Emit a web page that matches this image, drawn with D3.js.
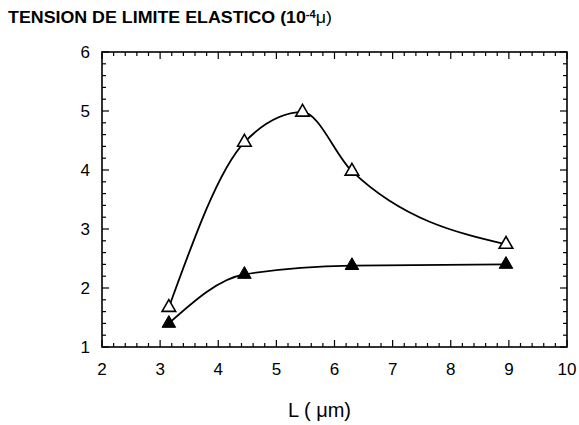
<!DOCTYPE html>
<html>
<head>
<meta charset="utf-8">
<script src="https://cdn.jsdelivr.net/npm/d3@7"></script>
<style>
  body { margin: 0; background: #fff; }
  svg { display: block; font-family: 'Liberation Sans', Arial, sans-serif; }
</style>
</head>
<body>
<div id="chart"></div>
<script>
// data
var xTicks = [2, 3, 4, 5, 6, 7, 8, 9, 10]
var yTicks = [1, 2, 3, 4, 5, 6]
var openL = [3.15, 4.45, 5.45, 6.3, 8.95]
var openV = [1.67, 4.47, 4.98, 3.98, 2.74]
var filledL = [3.15, 4.45, 6.3, 8.95]
var filledV = [1.4, 2.23, 2.38, 2.40]

var width = 579
var height = 425
var margin = { top: 52, right: 12, bottom: 78, left: 102 }

var svg = d3.select('#chart')
  .append('svg')
  .attr('width', width)
  .attr('height', height)

var x = d3.scaleLinear().domain([2, 10]).range([margin.left, width - margin.right])
var y = d3.scaleLinear().domain([1, 6]).range([height - margin.bottom, margin.top])

// inward ticks on all four sides
var minorX = d3.range(2, 10.001, 0.2)
var minorY = d3.range(1, 6.001, 0.2)

function isMajor (v) { return Math.abs(v - Math.round(v)) < 1e-6 }

var ticks = svg.append('g').attr('stroke', '#000').attr('stroke-width', 1.2)

ticks.selectAll('.tb').data(minorX).enter().append('line')
  .attr('x1', d => x(d)).attr('x2', d => x(d))
  .attr('y1', y(1)).attr('y2', d => y(1) - (isMajor(d) ? 7 : 4))
ticks.selectAll('.tt').data(minorX).enter().append('line')
  .attr('x1', d => x(d)).attr('x2', d => x(d))
  .attr('y1', y(6)).attr('y2', d => y(6) + (isMajor(d) ? 7 : 4))
ticks.selectAll('.tl').data(minorY).enter().append('line')
  .attr('y1', d => y(d)).attr('y2', d => y(d))
  .attr('x1', x(2)).attr('x2', d => x(2) + (isMajor(d) ? 7 : 4))
ticks.selectAll('.tr').data(minorY).enter().append('line')
  .attr('y1', d => y(d)).attr('y2', d => y(d))
  .attr('x1', x(10)).attr('x2', d => x(10) - (isMajor(d) ? 7 : 4))

svg.append('rect')
  .attr('x', x(2)).attr('y', y(6))
  .attr('width', x(10) - x(2)).attr('height', y(1) - y(6))
  .attr('fill', 'none').attr('stroke', '#000').attr('stroke-width', 1.6)

svg.append('g').selectAll('text').data(xTicks).enter().append('text')
  .attr('x', d => x(d)).attr('y', y(1) + 28)
  .attr('text-anchor', 'middle').attr('font-size', 17)
  .text(d => d)

svg.append('g').selectAll('text').data(yTicks).enter().append('text')
  .attr('x', x(2) - 12).attr('y', d => y(d) + 6)
  .attr('text-anchor', 'end').attr('font-size', 17)
  .text(d => d)

// smooth curves through the measured points
var line = d3.line()
  .x(d => x(d[0]))
  .y(d => y(d[1]))
  .curve(d3.curveMonotoneX)

var openPts = d3.zip(openL, openV)
var filledPts = d3.zip(filledL, filledV)

svg.append('path').datum(openPts).attr('d', line)
  .attr('fill', 'none').attr('stroke', '#000').attr('stroke-width', 1.8)
svg.append('path').datum(filledPts).attr('d', line)
  .attr('fill', 'none').attr('stroke', '#000').attr('stroke-width', 1.8)

var tri = d3.symbol().type(d3.symbolTriangle).size(80)

svg.append('g').selectAll('path').data(openPts).enter().append('path')
  .attr('d', tri)
  .attr('transform', d => `translate(${x(d[0])},${y(d[1])})`)
  .attr('fill', '#fff').attr('stroke', '#000').attr('stroke-width', 1.6)

svg.append('g').selectAll('path').data(filledPts).enter().append('path')
  .attr('d', tri)
  .attr('transform', d => `translate(${x(d[0])},${y(d[1])})`)
  .attr('fill', '#000').attr('stroke', '#000').attr('stroke-width', 1)

var title = svg.append('text')
  .attr('x', 8).attr('y', 23)
  .attr('font-size', 16).attr('font-weight', 'bold')
  .attr('textLength', 324).attr('lengthAdjust', 'spacingAndGlyphs')
title.append('tspan').text('TENSION DE LIMITE ELASTICO (10')
title.append('tspan').attr('dy', -5).attr('font-size', 10).text('-4')
title.append('tspan').attr('dy', 5).attr('font-weight', 'normal').text('\u03bc)')

svg.append('text')
  .attr('x', 288).attr('y', 417)
  .attr('font-size', 20)
  .text('L ( \u03bcm)')
</script>
</body>
</html>
